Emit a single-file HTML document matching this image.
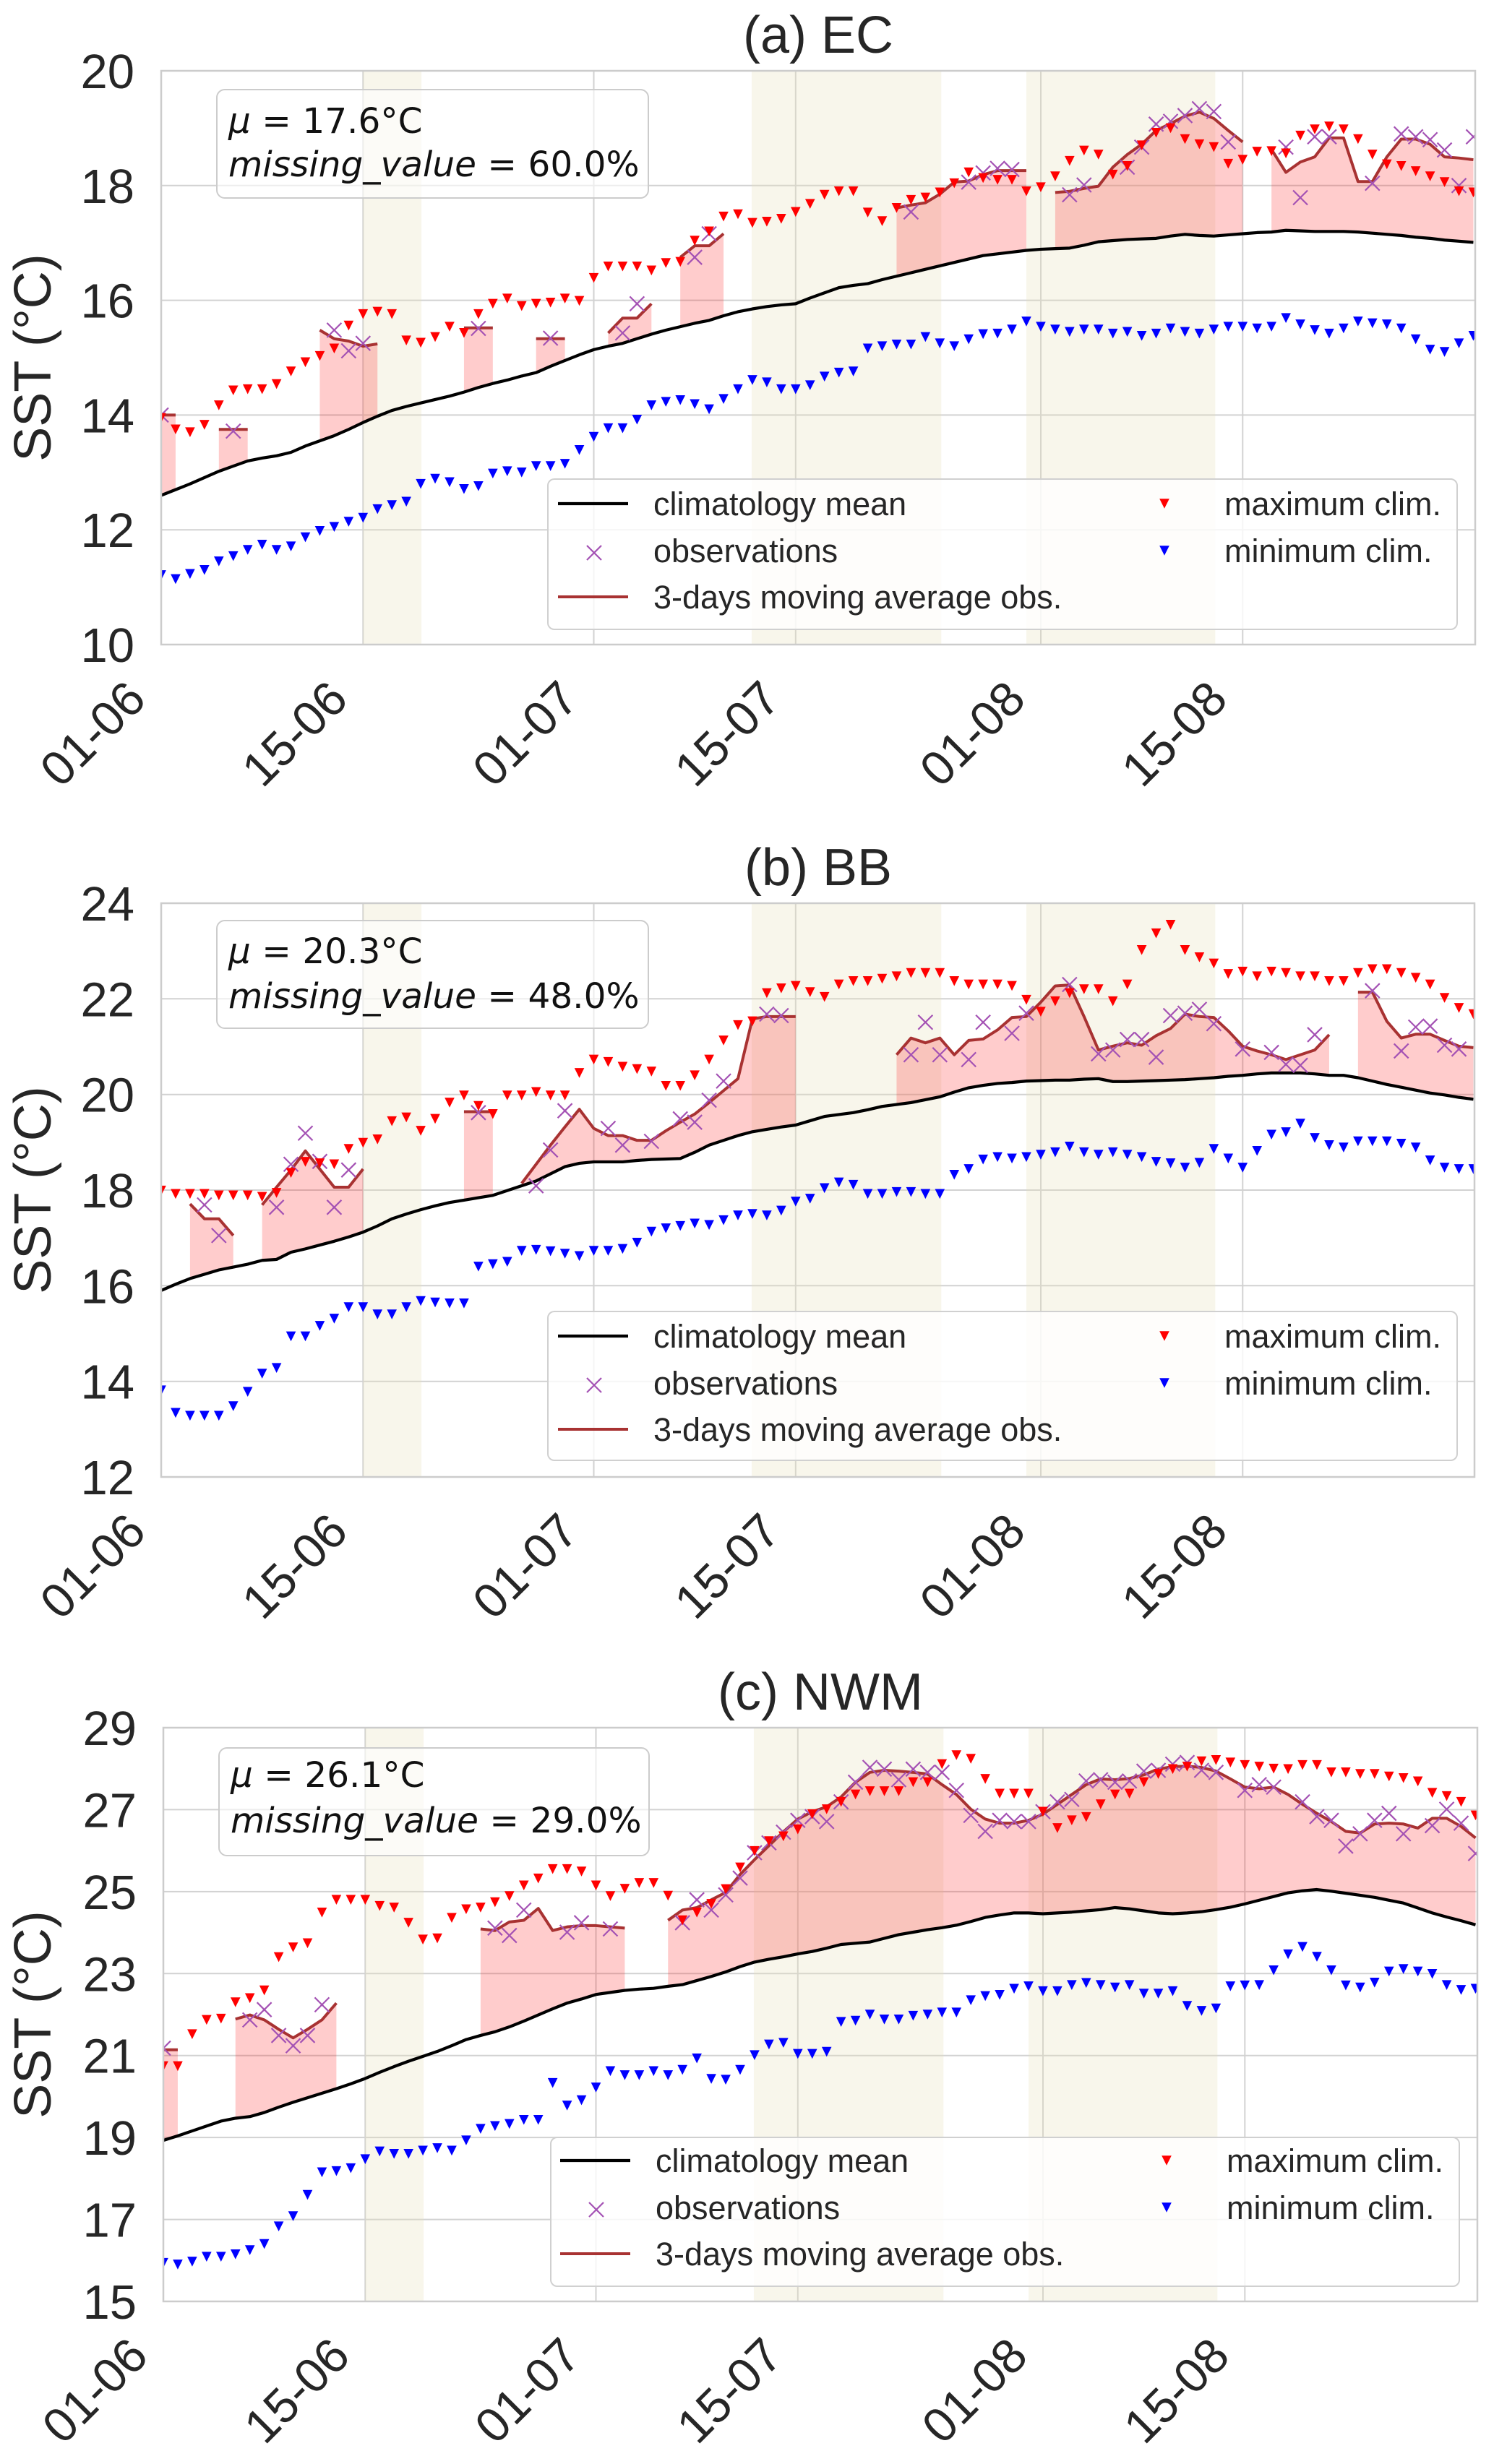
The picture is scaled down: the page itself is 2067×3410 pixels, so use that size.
<!DOCTYPE html>
<html><head><meta charset="utf-8"><style>
html,body{margin:0;padding:0;background:#fff;}
svg{display:block;}
.t{font-family:"Liberation Sans",Arial,sans-serif;fill:#262626;}
.m{font-family:"DejaVu Sans","Liberation Sans",sans-serif;fill:#111;}
</style></head><body>
<svg xmlns="http://www.w3.org/2000/svg" width="2067" height="3410" viewBox="0 0 2067 3410">
<defs>
<clipPath id="ca"><rect x="223" y="98" width="1818" height="794"/></clipPath>
<clipPath id="cb"><rect x="223" y="1250" width="1817" height="794"/></clipPath>
<clipPath id="cc"><rect x="226" y="2391" width="1818" height="794"/></clipPath>
<marker id="ra" markerUnits="userSpaceOnUse" markerWidth="1" markerHeight="1" overflow="visible" orient="0"><path d="M-0.341 0.0856H0.341L0 -0.0856Z" fill="#ff0000"/></marker>
<marker id="ba" markerUnits="userSpaceOnUse" markerWidth="1" markerHeight="1" overflow="visible" orient="0"><path d="M-0.341 0.0856H0.341L0 -0.0856Z" fill="#0000ff"/></marker>
<marker id="rb" markerUnits="userSpaceOnUse" markerWidth="1" markerHeight="1" overflow="visible" orient="0"><path d="M-0.341 0.1028H0.341L0 -0.1028Z" fill="#ff0000"/></marker>
<marker id="bb" markerUnits="userSpaceOnUse" markerWidth="1" markerHeight="1" overflow="visible" orient="0"><path d="M-0.341 0.1028H0.341L0 -0.1028Z" fill="#0000ff"/></marker>
<marker id="rc" markerUnits="userSpaceOnUse" markerWidth="1" markerHeight="1" overflow="visible" orient="0"><path d="M-0.341 0.1199H0.341L0 -0.1199Z" fill="#ff0000"/></marker>
<marker id="bc" markerUnits="userSpaceOnUse" markerWidth="1" markerHeight="1" overflow="visible" orient="0"><path d="M-0.341 0.1199H0.341L0 -0.1199Z" fill="#0000ff"/></marker>
<marker id="xa" markerUnits="userSpaceOnUse" markerWidth="1" markerHeight="1" overflow="visible" orient="0"><path d="M-0.4622 -0.1358L0.5404 0.1161L0.4622 0.1358L-0.5404 -0.1161ZM0.5404 -0.1161L-0.4622 0.1358L-0.5404 0.1161L0.4622 -0.1358Z" fill="#a452b4"/></marker>
<marker id="xb" markerUnits="userSpaceOnUse" markerWidth="1" markerHeight="1" overflow="visible" orient="0"><path d="M-0.4622 -0.1629L0.5404 0.1393L0.4622 0.1629L-0.5404 -0.1393ZM0.5404 -0.1393L-0.4622 0.1629L-0.5404 0.1393L0.4622 -0.1629Z" fill="#a452b4"/></marker>
<marker id="xc" markerUnits="userSpaceOnUse" markerWidth="1" markerHeight="1" overflow="visible" orient="0"><path d="M-0.4622 -0.1901L0.5404 0.1626L0.4622 0.1901L-0.5404 -0.1626ZM0.5404 -0.1626L-0.4622 0.1901L-0.5404 0.1626L0.4622 -0.1901Z" fill="#a452b4"/></marker>
</defs>

<!-- ================= PANEL A ================= -->
<text class="t" x="1132" y="73" font-size="72" text-anchor="middle">(a) EC</text>
<g stroke="#d2d2d2" stroke-width="2">
<line x1="223" x2="2041" y1="256.8" y2="256.8"/><line x1="223" x2="2041" y1="415.6" y2="415.6"/><line x1="223" x2="2041" y1="574.4" y2="574.4"/><line x1="223" x2="2041" y1="733.2" y2="733.2"/>
<line x1="502.3" x2="502.3" y1="98" y2="892"/><line x1="821.5" x2="821.5" y1="98" y2="892"/><line x1="1100.8" x2="1100.8" y1="98" y2="892"/><line x1="1440" x2="1440" y1="98" y2="892"/><line x1="1719.3" x2="1719.3" y1="98" y2="892"/>
</g>
<g clip-path="url(#ca)"><g transform="translate(223 892) scale(19.95 -79.4) translate(0 -10)">
<g fill="rgb(232,225,190)" fill-opacity="0.3"><rect x="14" y="10" width="4.05" height="10"/><rect x="40.95" y="10" width="13.15" height="10"/><rect x="60" y="10" width="13.1" height="10"/></g>
<g fill="#ff0000" fill-opacity="0.2">
<polygon points="0,14.0 1,14.0 1,12.70 0,12.60"/>
<polygon points="4,13.75 5,13.75 6,13.75 6,13.20 5,13.11 4,13.02"/>
<polygon points="11,15.48 12,15.33 13,15.29 14,15.20 15,15.24 15,13.98 14,13.87 13,13.75 12,13.64 11,13.55"/>
<polygon points="21,15.52 22,15.52 23,15.52 23,14.55 22,14.48 21,14.40"/>
<polygon points="26,15.33 27,15.33 28,15.33 28,14.95 27,14.85 26,14.74"/>
<polygon points="31,15.43 32,15.69 33,15.69 34,15.94 34,15.41 33,15.33 32,15.25 31,15.20"/>
<polygon points="36,16.75 37,16.95 38,16.95 39,17.16 39,15.73 38,15.65 37,15.60 36,15.54"/>
<polygon points="51,17.61 52,17.66 53,17.70 54,17.85 55,18.06 56,18.08 57,18.19 58,18.26 59,18.26 60,18.26 60,16.87 59,16.84 58,16.81 57,16.78 56,16.72 55,16.66 54,16.60 53,16.54 52,16.48 51,16.42"/>
<polygon points="62,17.88 63,17.90 64,17.95 65,17.99 66,18.32 67,18.54 68,18.72 69,18.96 70,19.08 71,19.21 72,19.28 73,19.17 74,18.96 75,18.76 75,17.16 74,17.14 73,17.12 72,17.13 71,17.15 70,17.12 69,17.08 68,17.07 67,17.06 66,17.04 65,17.02 64,16.96 63,16.91 62,16.90"/>
<polygon points="77,18.63 78,18.23 79,18.41 80,18.50 81,18.83 82,18.83 83,18.07 84,18.07 85,18.50 86,18.81 87,18.81 88,18.72 89,18.50 90,18.48 91,18.45 91,17.01 90,17.03 89,17.05 88,17.08 87,17.10 86,17.13 85,17.15 84,17.17 83,17.19 82,17.20 81,17.20 80,17.20 79,17.21 78,17.22 77,17.19"/>
</g>
<polyline fill="none" stroke="#000" stroke-width="4.2" vector-effect="non-scaling-stroke" stroke-linejoin="round" points="0,12.60 1,12.70 2,12.80 3,12.91 4,13.02 5,13.11 6,13.20 7,13.25 8,13.29 9,13.35 10,13.46 11,13.55 12,13.64 13,13.75 14,13.87 15,13.98 16,14.08 17,14.15 18,14.21 19,14.27 20,14.33 21,14.40 22,14.48 23,14.55 24,14.61 25,14.68 26,14.74 27,14.85 28,14.95 29,15.05 30,15.14 31,15.20 32,15.25 33,15.33 34,15.41 35,15.48 36,15.54 37,15.60 38,15.65 39,15.73 40,15.80 41,15.85 42,15.89 43,15.92 44,15.94 45,16.04 46,16.13 47,16.22 48,16.26 49,16.29 50,16.36 51,16.42 52,16.48 53,16.54 54,16.60 55,16.66 56,16.72 57,16.78 58,16.81 59,16.84 60,16.87 61,16.89 62,16.90 63,16.91 64,16.96 65,17.02 66,17.04 67,17.06 68,17.07 69,17.08 70,17.12 71,17.15 72,17.13 73,17.12 74,17.14 75,17.16 76,17.18 77,17.19 78,17.22 79,17.21 80,17.20 81,17.20 82,17.20 83,17.19 84,17.17 85,17.15 86,17.13 87,17.10 88,17.08 89,17.05 90,17.03 91,17.01"/>
<g fill="none" stroke="#a83232" stroke-width="4" vector-effect="non-scaling-stroke" stroke-linejoin="round">
<polyline vector-effect="non-scaling-stroke" points="0,14.0 1,14.0"/>
<polyline vector-effect="non-scaling-stroke" points="4,13.75 5,13.75 6,13.75"/>
<polyline vector-effect="non-scaling-stroke" points="11,15.48 12,15.33 13,15.29 14,15.20 15,15.24"/>
<polyline vector-effect="non-scaling-stroke" points="21,15.52 22,15.52 23,15.52"/>
<polyline vector-effect="non-scaling-stroke" points="26,15.33 27,15.33 28,15.33"/>
<polyline vector-effect="non-scaling-stroke" points="31,15.43 32,15.69 33,15.69 34,15.94"/>
<polyline vector-effect="non-scaling-stroke" points="36,16.75 37,16.95 38,16.95 39,17.16"/>
<polyline vector-effect="non-scaling-stroke" points="51,17.61 52,17.66 53,17.70 54,17.85 55,18.06 56,18.08 57,18.19 58,18.26 59,18.26 60,18.26"/>
<polyline vector-effect="non-scaling-stroke" points="62,17.88 63,17.90 64,17.95 65,17.99 66,18.32 67,18.54 68,18.72 69,18.96 70,19.08 71,19.21 72,19.28 73,19.17 74,18.96 75,18.76"/>
<polyline vector-effect="non-scaling-stroke" points="77,18.63 78,18.23 79,18.41 80,18.50 81,18.83 82,18.83 83,18.07 84,18.07 85,18.50 86,18.81 87,18.81 88,18.72 89,18.50 90,18.48 91,18.45"/>
</g>
<polyline fill="none" stroke="none" marker-start="url(#xa)" marker-mid="url(#xa)" marker-end="url(#xa)" points="0,14.0 5,13.72 12,15.48 13,15.12 14,15.25 22,15.51 27,15.34 32,15.43 33,15.94 37,16.75 38,17.16 52,17.54 56,18.06 57,18.22 58,18.30 59,18.28 63,17.84 64,18.01 67,18.32 68,18.67 69,19.07 70,19.12 71,19.22 72,19.34 73,19.29 74,18.76 78,18.67 79,17.79 80,18.85 81,18.85 84,18.04 86,18.90 87,18.85 88,18.80 89,18.62 90,18.00 91,18.85"/>
<polyline fill="none" stroke="none" marker-start="url(#ra)" marker-mid="url(#ra)" marker-end="url(#ra)" points="0,13.95 1,13.75 2,13.70 3,13.83 4,14.17 5,14.43 6,14.45 7,14.45 8,14.54 9,14.76 10,14.92 11,15.03 12,15.16 13,15.56 14,15.76 15,15.80 16,15.76 17,15.30 18,15.26 19,15.36 20,15.54 21,15.43 22,15.76 23,15.94 24,16.03 25,15.90 26,15.94 27,15.96 28,16.03 29,15.99 30,16.39 31,16.59 32,16.59 33,16.59 34,16.52 35,16.65 36,16.67 37,17.04 38,17.20 39,17.46 40,17.50 41,17.35 42,17.37 43,17.42 44,17.54 45,17.68 46,17.84 47,17.90 48,17.90 49,17.53 50,17.38 51,17.61 52,17.75 53,17.79 54,17.88 55,18.04 56,18.23 57,18.13 58,18.10 59,18.10 60,17.90 61,17.97 62,18.16 63,18.43 64,18.61 65,18.54 66,18.19 67,18.34 68,18.70 69,18.92 70,19.00 71,18.81 72,18.72 73,18.67 74,18.38 75,18.45 76,18.59 77,18.60 78,18.56 79,18.87 80,18.98 81,19.03 82,18.98 83,18.81 84,18.54 85,18.37 86,18.34 87,18.25 88,18.16 89,18.06 90,17.90 91,17.88"/>
<polyline fill="none" stroke="none" marker-start="url(#ba)" marker-mid="url(#ba)" marker-end="url(#ba)" points="0,11.21 1,11.14 2,11.23 3,11.30 4,11.45 5,11.54 6,11.65 7,11.74 8,11.65 9,11.71 10,11.87 11,11.98 12,12.05 13,12.14 14,12.21 15,12.36 16,12.43 17,12.49 18,12.80 19,12.89 20,12.83 21,12.71 22,12.76 23,12.98 24,13.02 25,13.00 26,13.11 27,13.11 28,13.15 29,13.39 30,13.62 31,13.77 32,13.77 33,13.92 34,14.17 35,14.23 36,14.26 37,14.19 38,14.10 39,14.28 40,14.45 41,14.61 42,14.57 43,14.45 44,14.45 45,14.52 46,14.67 47,14.74 48,14.76 49,15.16 50,15.20 51,15.23 52,15.23 53,15.36 54,15.25 55,15.20 56,15.32 57,15.41 58,15.42 59,15.49 60,15.63 61,15.54 62,15.49 63,15.45 64,15.49 65,15.49 66,15.42 67,15.45 68,15.38 69,15.42 70,15.51 71,15.45 72,15.42 73,15.49 74,15.54 75,15.54 76,15.51 77,15.54 78,15.69 79,15.58 80,15.48 81,15.42 82,15.51 83,15.63 84,15.60 85,15.58 86,15.51 87,15.32 88,15.14 89,15.10 90,15.25 91,15.38"/>
</g></g>
<rect x="223" y="98" width="1818" height="794" fill="none" stroke="#cccccc" stroke-width="2.5"/>
<rect x="300" y="124" width="597" height="150" rx="11" fill="#fff" fill-opacity="0.6" stroke="#cccccc" stroke-width="2"/>
<text class="m" x="316" y="184" font-size="48.5"><tspan font-style="italic">μ</tspan> = 17.6°C</text>
<text class="m" x="316" y="244" font-size="48.5"><tspan font-style="italic">missing_value</tspan> = 60.0%</text>
<rect x="758" y="663" width="1258" height="208" rx="9" fill="#fff" fill-opacity="0.8" stroke="#d0d0d0" stroke-width="2"/>
<line x1="772" x2="869" y1="697" y2="697" stroke="#000" stroke-width="4.2"/>
<path d="M812,755 L832,775 M832,755 L812,775" stroke="#a452b4" stroke-width="2.2"/>
<line x1="772" x2="869" y1="826" y2="826" stroke="#a83232" stroke-width="4"/>
<polygon points="1604.2,690.2 1617.8,690.2 1611,703.8" fill="#ff0000"/>
<polygon points="1604.2,755.2 1617.8,755.2 1611,768.8" fill="#0000ff"/>
<g class="t" font-size="45">
<text x="904" y="713">climatology mean</text><text x="904" y="778">observations</text><text x="904" y="842">3-days moving average obs.</text>
<text x="1694" y="713">maximum clim.</text><text x="1694" y="778">minimum clim.</text>
</g>
<g class="t" font-size="67" text-anchor="end">
<text x="186" y="122">20</text><text x="186" y="280.8">18</text><text x="186" y="439.6">16</text><text x="186" y="598.4">14</text><text x="186" y="757.2">12</text><text x="186" y="916">10</text>
<text x="205" y="971" transform="rotate(-45 205 971)">01-06</text>
<text x="484.3" y="971" transform="rotate(-45 484.3 971)">15-06</text>
<text x="803.5" y="971" transform="rotate(-45 803.5 971)">01-07</text>
<text x="1082.8" y="971" transform="rotate(-45 1082.8 971)">15-07</text>
<text x="1422" y="971" transform="rotate(-45 1422 971)">01-08</text>
<text x="1701.3" y="971" transform="rotate(-45 1701.3 971)">15-08</text>
</g>
<text class="t" font-size="72" text-anchor="middle" transform="translate(70 495) rotate(-90)">SST (°C)</text>

<!-- ================= PANEL B ================= -->
<text class="t" x="1132" y="1225" font-size="72" text-anchor="middle">(b) BB</text>
<g stroke="#d2d2d2" stroke-width="2">
<line x1="223" x2="2040" y1="1382.3" y2="1382.3"/><line x1="223" x2="2040" y1="1514.7" y2="1514.7"/><line x1="223" x2="2040" y1="1647" y2="1647"/><line x1="223" x2="2040" y1="1779.3" y2="1779.3"/><line x1="223" x2="2040" y1="1911.7" y2="1911.7"/>
<line x1="502.3" x2="502.3" y1="1250" y2="2044"/><line x1="821.5" x2="821.5" y1="1250" y2="2044"/><line x1="1100.8" x2="1100.8" y1="1250" y2="2044"/><line x1="1440" x2="1440" y1="1250" y2="2044"/><line x1="1719.3" x2="1719.3" y1="1250" y2="2044"/>
</g>
<g clip-path="url(#cb)"><g transform="translate(223 2044) scale(19.95 -66.1667) translate(0 -12)">
<g fill="rgb(232,225,190)" fill-opacity="0.3"><rect x="14" y="12" width="4.05" height="12"/><rect x="40.95" y="12" width="13.15" height="12"/><rect x="60" y="12" width="13.1" height="12"/></g>
<g fill="#ff0000" fill-opacity="0.2">
<polygon points="2,17.71 3,17.40 4,17.40 5,17.05 5,16.39 4,16.33 3,16.24 2,16.15"/>
<polygon points="7,17.69 8,18.06 9,18.42 10,18.82 11,18.44 12,18.06 13,18.06 14,18.44 14,17.12 13,17.02 12,16.93 11,16.85 10,16.77 9,16.70 8,16.55 7,16.53"/>
<polygon points="21,19.64 22,19.64 23,19.64 23,17.89 22,17.84 21,17.79"/>
<polygon points="25,18.14 26,18.54 27,18.94 28,19.32 29,19.69 30,19.29 31,19.14 32,19.14 33,19.04 34,19.04 35,19.24 36,19.42 37,19.59 38,19.83 39,20.08 40,20.33 41,21.58 42,21.63 43,21.63 44,21.63 44,19.36 43,19.32 42,19.27 41,19.22 40,19.14 39,19.04 38,18.94 37,18.79 36,18.66 35,18.65 34,18.64 33,18.62 32,18.59 31,18.59 30,18.59 29,18.56 28,18.49 27,18.34 26,18.19 25,18.09"/>
<polygon points="51,20.83 52,21.18 53,21.08 54,21.18 55,20.83 56,21.13 57,21.16 58,21.35 59,21.61 60,21.63 61,21.93 62,22.27 63,22.29 64,21.63 65,20.93 66,21.01 67,21.08 68,21.03 69,21.23 70,21.38 71,21.68 72,21.63 73,21.61 74,21.33 75,21.01 76,20.91 77,20.83 78,20.73 79,20.83 80,20.93 81,21.25 81,20.40 80,20.43 79,20.45 78,20.45 77,20.45 76,20.43 75,20.40 74,20.38 73,20.35 72,20.33 71,20.31 70,20.30 69,20.29 68,20.28 67,20.27 66,20.27 65,20.33 64,20.32 63,20.30 62,20.30 61,20.29 60,20.28 59,20.25 58,20.23 57,20.19 56,20.14 55,20.05 54,19.95 53,19.89 52,19.83 51,19.79"/>
<polygon points="83,22.14 84,22.14 85,21.53 86,21.18 87,21.26 88,21.26 89,21.13 90,21.01 91,20.98 91,19.90 90,19.94 89,19.99 88,20.03 87,20.09 86,20.15 85,20.21 84,20.28 83,20.35"/>
</g>
<polyline fill="none" stroke="#000" stroke-width="4.2" vector-effect="non-scaling-stroke" stroke-linejoin="round" points="0,15.90 1,16.03 2,16.15 3,16.24 4,16.33 5,16.39 6,16.45 7,16.53 8,16.55 9,16.70 10,16.77 11,16.85 12,16.93 13,17.02 14,17.12 15,17.25 16,17.40 17,17.50 18,17.59 19,17.67 20,17.74 21,17.79 22,17.84 23,17.89 24,17.99 25,18.09 26,18.19 27,18.34 28,18.49 29,18.56 30,18.59 31,18.59 32,18.59 33,18.62 34,18.64 35,18.65 36,18.66 37,18.79 38,18.94 39,19.04 40,19.14 41,19.22 42,19.27 43,19.32 44,19.36 45,19.45 46,19.54 47,19.58 48,19.62 49,19.68 50,19.75 51,19.79 52,19.83 53,19.89 54,19.95 55,20.05 56,20.14 57,20.19 58,20.23 59,20.25 60,20.28 61,20.29 62,20.30 63,20.30 64,20.32 65,20.33 66,20.27 67,20.27 68,20.28 69,20.29 70,20.30 71,20.31 72,20.33 73,20.35 74,20.38 75,20.40 76,20.43 77,20.45 78,20.45 79,20.45 80,20.43 81,20.40 82,20.40 83,20.35 84,20.28 85,20.21 86,20.15 87,20.09 88,20.03 89,19.99 90,19.94 91,19.90"/>
<g fill="none" stroke="#a83232" stroke-width="4" stroke-linejoin="round">
<polyline vector-effect="non-scaling-stroke" points="2,17.71 3,17.40 4,17.40 5,17.05"/>
<polyline vector-effect="non-scaling-stroke" points="7,17.69 8,18.06 9,18.42 10,18.82 11,18.44 12,18.06 13,18.06 14,18.44"/>
<polyline vector-effect="non-scaling-stroke" points="21,19.64 22,19.64 23,19.64"/>
<polyline vector-effect="non-scaling-stroke" points="25,18.14 26,18.54 27,18.94 28,19.32 29,19.69 30,19.29 31,19.14 32,19.14 33,19.04 34,19.04 35,19.24 36,19.42 37,19.59 38,19.83 39,20.08 40,20.33 41,21.58 42,21.63 43,21.63 44,21.63"/>
<polyline vector-effect="non-scaling-stroke" points="51,20.83 52,21.18 53,21.08 54,21.18 55,20.83 56,21.13 57,21.16 58,21.35 59,21.61 60,21.63 61,21.93 62,22.27 63,22.29 64,21.63 65,20.93 66,21.01 67,21.08 68,21.03 69,21.23 70,21.38 71,21.68 72,21.63 73,21.61 74,21.33 75,21.01 76,20.91 77,20.83 78,20.73 79,20.83 80,20.93 81,21.25"/>
<polyline vector-effect="non-scaling-stroke" points="83,22.14 84,22.14 85,21.53 86,21.18 87,21.26 88,21.26 89,21.13 90,21.01 91,20.98"/>
</g>
<polyline fill="none" stroke="none" marker-start="url(#xb)" marker-mid="url(#xb)" marker-end="url(#xb)" points="3,17.69 4,17.05 8,17.64 9,18.54 10,19.19 11,18.60 12,17.64 13,18.42 22,19.62 26,18.09 27,18.84 28,19.66 31,19.29 32,18.94 34,19.02 36,19.49 37,19.42 38,19.88 39,20.28 42,21.68 43,21.65 52,20.83 53,21.51 54,20.83 56,20.73 57,21.51 59,21.28 60,21.70 63,22.30 65,20.85 66,20.93 67,21.15 68,21.15 69,20.78 70,21.65 71,21.70 72,21.78 73,21.48 75,20.95 77,20.88 78,20.63 79,20.61 80,21.25 84,22.17 86,20.91 87,21.41 88,21.43 89,21.03 90,20.95"/>
<polyline fill="none" stroke="none" marker-start="url(#rb)" marker-mid="url(#rb)" marker-end="url(#rb)" points="0,17.99 1,17.92 2,17.92 3,17.92 4,17.89 5,17.89 6,17.89 7,17.86 8,17.94 9,18.36 10,18.59 11,18.56 12,18.54 13,18.86 14,18.99 15,19.06 16,19.44 17,19.52 18,19.24 19,19.49 20,19.83 21,19.98 22,19.76 23,19.59 24,19.98 25,19.98 26,20.05 27,19.98 28,19.98 29,20.45 30,20.73 31,20.68 32,20.58 33,20.53 34,20.48 35,20.18 36,20.18 37,20.40 38,20.73 39,21.13 40,21.45 41,21.53 42,22.12 43,22.22 44,22.27 45,22.14 46,22.04 47,22.30 48,22.37 49,22.37 50,22.42 51,22.47 52,22.54 53,22.54 54,22.54 55,22.37 56,22.30 57,22.30 58,22.30 59,22.27 60,21.98 61,21.73 62,21.95 63,22.12 64,22.20 65,22.20 66,21.95 67,22.30 68,23.02 69,23.37 70,23.55 71,23.02 72,22.87 73,22.74 74,22.52 75,22.57 76,22.47 77,22.57 78,22.54 79,22.47 80,22.47 81,22.37 82,22.37 83,22.54 84,22.62 85,22.62 86,22.54 87,22.44 88,22.30 89,22.02 90,21.81 91,21.68"/>
<polyline fill="none" stroke="none" marker-start="url(#bb)" marker-mid="url(#bb)" marker-end="url(#bb)" points="0,13.81 1,13.34 2,13.28 3,13.28 4,13.28 5,13.48 6,13.78 7,14.16 8,14.28 9,14.94 10,14.94 11,15.16 12,15.31 13,15.55 14,15.55 15,15.40 16,15.40 17,15.55 18,15.68 19,15.65 20,15.63 21,15.63 22,16.40 23,16.45 24,16.50 25,16.73 26,16.75 27,16.72 28,16.67 29,16.62 30,16.73 31,16.73 32,16.77 33,16.90 34,17.13 35,17.20 36,17.25 37,17.30 38,17.27 39,17.37 40,17.47 41,17.50 42,17.47 43,17.57 44,17.76 45,17.82 46,18.04 47,18.16 48,18.11 49,17.92 50,17.92 51,17.96 52,17.96 53,17.92 54,17.92 55,18.32 56,18.44 57,18.64 58,18.69 59,18.66 60,18.69 61,18.74 62,18.79 63,18.91 64,18.79 65,18.74 66,18.79 67,18.74 68,18.69 69,18.59 70,18.56 71,18.47 72,18.57 73,18.86 74,18.66 75,18.47 76,18.82 77,19.16 78,19.21 79,19.39 80,19.09 81,18.94 82,18.89 83,19.02 84,19.02 85,19.02 86,18.97 87,18.89 88,18.62 89,18.47 90,18.44 91,18.44"/>
</g></g>
<rect x="223" y="1250" width="1817" height="794" fill="none" stroke="#cccccc" stroke-width="2.5"/>
<rect x="300" y="1274" width="597" height="149" rx="11" fill="#fff" fill-opacity="0.6" stroke="#cccccc" stroke-width="2"/>
<text class="m" x="316" y="1333" font-size="48.5"><tspan font-style="italic">μ</tspan> = 20.3°C</text>
<text class="m" x="316" y="1395" font-size="48.5"><tspan font-style="italic">missing_value</tspan> = 48.0%</text>
<rect x="758" y="1815" width="1258" height="206" rx="9" fill="#fff" fill-opacity="0.8" stroke="#d0d0d0" stroke-width="2"/>
<line x1="772" x2="869" y1="1849" y2="1849" stroke="#000" stroke-width="4.2"/>
<path d="M812,1907 L832,1927 M832,1907 L812,1927" stroke="#a452b4" stroke-width="2.2"/>
<line x1="772" x2="869" y1="1978" y2="1978" stroke="#a83232" stroke-width="4"/>
<polygon points="1604.2,1842.2 1617.8,1842.2 1611,1855.8" fill="#ff0000"/>
<polygon points="1604.2,1907.2 1617.8,1907.2 1611,1920.8" fill="#0000ff"/>
<g class="t" font-size="45">
<text x="904" y="1865">climatology mean</text><text x="904" y="1930">observations</text><text x="904" y="1994">3-days moving average obs.</text>
<text x="1694" y="1865">maximum clim.</text><text x="1694" y="1930">minimum clim.</text>
</g>
<g class="t" font-size="67" text-anchor="end">
<text x="186" y="1274">24</text><text x="186" y="1406.3">22</text><text x="186" y="1538.7">20</text><text x="186" y="1671">18</text><text x="186" y="1803.3">16</text><text x="186" y="1935.7">14</text><text x="186" y="2068">12</text>
<text x="205" y="2123" transform="rotate(-45 205 2123)">01-06</text>
<text x="484.3" y="2123" transform="rotate(-45 484.3 2123)">15-06</text>
<text x="803.5" y="2123" transform="rotate(-45 803.5 2123)">01-07</text>
<text x="1082.8" y="2123" transform="rotate(-45 1082.8 2123)">15-07</text>
<text x="1422" y="2123" transform="rotate(-45 1422 2123)">01-08</text>
<text x="1701.3" y="2123" transform="rotate(-45 1701.3 2123)">15-08</text>
</g>
<text class="t" font-size="72" text-anchor="middle" transform="translate(70 1647) rotate(-90)">SST (°C)</text>

<!-- ================= PANEL C ================= -->
<text class="t" x="1135" y="2366" font-size="72" text-anchor="middle">(c) NWM</text>
<g stroke="#d2d2d2" stroke-width="2">
<line x1="226" x2="2044" y1="2504.4" y2="2504.4"/><line x1="226" x2="2044" y1="2617.9" y2="2617.9"/><line x1="226" x2="2044" y1="2731.3" y2="2731.3"/><line x1="226" x2="2044" y1="2844.7" y2="2844.7"/><line x1="226" x2="2044" y1="2958.1" y2="2958.1"/><line x1="226" x2="2044" y1="3071.6" y2="3071.6"/>
<line x1="505.3" x2="505.3" y1="2391" y2="3185"/><line x1="824.5" x2="824.5" y1="2391" y2="3185"/><line x1="1103.8" x2="1103.8" y1="2391" y2="3185"/><line x1="1443" x2="1443" y1="2391" y2="3185"/><line x1="1722.3" x2="1722.3" y1="2391" y2="3185"/>
</g>
<g clip-path="url(#cc)"><g transform="translate(226 3185) scale(19.95 -56.714) translate(0 -15)">
<g fill="rgb(232,225,190)" fill-opacity="0.3"><rect x="14" y="15" width="4.05" height="14"/><rect x="40.95" y="15" width="13.15" height="14"/><rect x="60" y="15" width="13.1" height="14"/></g>
<g fill="#ff0000" fill-opacity="0.2">
<polygon points="0,21.14 1,21.14 1,19.04 0,18.93"/>
<polygon points="5,21.89 6,21.99 7,21.87 8,21.64 9,21.43 10,21.64 11,21.87 12,22.28 12,20.19 11,20.08 10,19.97 9,19.86 8,19.74 7,19.61 6,19.51 5,19.47"/>
<polygon points="22,24.09 23,24.05 24,24.26 25,24.30 26,24.59 27,24.05 28,24.14 29,24.17 30,24.17 31,24.14 32,24.11 32,22.59 31,22.54 30,22.49 29,22.38 28,22.28 27,22.14 26,21.99 25,21.84 24,21.70 23,21.58 22,21.49"/>
<polygon points="35,24.30 36,24.55 37,24.61 38,24.80 39,24.98 40,25.42 41,25.78 42,26.12 43,26.46 44,26.77 45,26.95 46,27.07 47,27.31 48,27.67 49,27.91 50,27.96 51,27.94 52,27.91 53,27.87 54,27.61 55,27.37 56,27.01 57,26.77 58,26.67 59,26.67 60,26.74 61,26.89 62,27.13 63,27.37 64,27.61 65,27.75 66,27.73 67,27.76 68,27.85 69,27.99 70,28.05 71,28.06 72,28.03 73,27.94 74,27.75 75,27.55 76,27.51 77,27.55 78,27.37 79,27.13 80,26.91 81,26.71 82,26.47 83,26.43 84,26.65 85,26.67 86,26.65 87,26.55 88,26.79 89,26.79 90,26.59 91,26.31 91,24.19 90,24.29 89,24.38 88,24.48 87,24.60 86,24.72 85,24.79 84,24.86 83,24.91 82,24.96 81,25.01 80,25.05 79,25.02 78,24.97 77,24.88 76,24.79 75,24.70 74,24.62 73,24.56 72,24.51 71,24.48 70,24.46 69,24.48 68,24.53 67,24.58 66,24.61 65,24.56 64,24.53 63,24.50 62,24.48 61,24.46 60,24.48 59,24.48 58,24.43 57,24.37 56,24.27 55,24.18 54,24.12 53,24.07 52,24.01 51,23.95 50,23.86 49,23.77 48,23.74 47,23.71 46,23.62 45,23.54 44,23.48 43,23.41 42,23.35 41,23.28 40,23.17 39,23.04 38,22.93 37,22.83 36,22.73 35,22.69"/>
</g>
<polyline fill="none" stroke="#000" stroke-width="4.2" vector-effect="non-scaling-stroke" stroke-linejoin="round" points="0,18.93 1,19.04 2,19.16 3,19.28 4,19.40 5,19.47 6,19.51 7,19.61 8,19.74 9,19.86 10,19.97 11,20.08 12,20.19 13,20.31 14,20.44 15,20.59 16,20.73 17,20.86 18,20.98 19,21.10 20,21.24 21,21.39 22,21.49 23,21.58 24,21.70 25,21.84 26,21.99 27,22.14 28,22.28 29,22.38 30,22.49 31,22.54 32,22.59 33,22.62 34,22.64 35,22.69 36,22.73 37,22.83 38,22.93 39,23.04 40,23.17 41,23.28 42,23.35 43,23.41 44,23.48 45,23.54 46,23.62 47,23.71 48,23.74 49,23.77 50,23.86 51,23.95 52,24.01 53,24.07 54,24.12 55,24.18 56,24.27 57,24.37 58,24.43 59,24.48 60,24.48 61,24.46 62,24.48 63,24.50 64,24.53 65,24.56 66,24.61 67,24.58 68,24.53 69,24.48 70,24.46 71,24.48 72,24.51 73,24.56 74,24.62 75,24.70 76,24.79 77,24.88 78,24.97 79,25.02 80,25.05 81,25.01 82,24.96 83,24.91 84,24.86 85,24.79 86,24.72 87,24.60 88,24.48 89,24.38 90,24.29 91,24.19"/>
<g fill="none" stroke="#a83232" stroke-width="4" stroke-linejoin="round">
<polyline vector-effect="non-scaling-stroke" points="0,21.14 1,21.14"/>
<polyline vector-effect="non-scaling-stroke" points="5,21.89 6,21.99 7,21.87 8,21.64 9,21.43 10,21.64 11,21.87 12,22.28"/>
<polyline vector-effect="non-scaling-stroke" points="22,24.09 23,24.05 24,24.26 25,24.30 26,24.59 27,24.05 28,24.14 29,24.17 30,24.17 31,24.14 32,24.11"/>
<polyline vector-effect="non-scaling-stroke" points="35,24.30 36,24.55 37,24.61 38,24.80 39,24.98 40,25.42 41,25.78 42,26.12 43,26.46 44,26.77 45,26.95 46,27.07 47,27.31 48,27.67 49,27.91 50,27.96 51,27.94 52,27.91 53,27.87 54,27.61 55,27.37 56,27.01 57,26.77 58,26.67 59,26.67 60,26.74 61,26.89 62,27.13 63,27.37 64,27.61 65,27.75 66,27.73 67,27.76 68,27.85 69,27.99 70,28.05 71,28.06 72,28.03 73,27.94 74,27.75 75,27.55 76,27.51 77,27.55 78,27.37 79,27.13 80,26.91 81,26.71 82,26.47 83,26.43 84,26.65 85,26.67 86,26.65 87,26.55 88,26.79 89,26.79 90,26.59 91,26.31"/>
</g>
<polyline fill="none" stroke="none" marker-start="url(#xc)" marker-mid="url(#xc)" marker-end="url(#xc)" points="0,21.18 6,21.87 7,22.12 8,21.49 9,21.24 10,21.49 11,22.24 23,24.11 24,23.93 25,24.55 28,24.01 29,24.24 31,24.09 36,24.24 37,24.80 38,24.55 39,24.92 40,25.33 41,25.95 42,26.19 43,26.45 44,26.74 45,26.83 46,26.71 47,27.19 48,27.67 49,28.03 50,27.99 51,27.73 52,27.99 53,27.91 54,27.91 55,27.47 56,26.86 57,26.47 58,26.74 59,26.71 60,26.71 61,26.95 62,27.19 63,27.25 64,27.70 65,27.73 66,27.67 67,27.70 68,27.94 69,27.96 70,28.11 71,28.15 72,27.96 73,27.91 75,27.47 76,27.61 77,27.55 79,27.19 80,26.83 81,26.74 82,26.11 83,26.41 84,26.74 85,26.91 86,26.41 88,26.61 89,27.01 90,26.67 91,25.93"/>
<polyline fill="none" stroke="none" marker-start="url(#rc)" marker-mid="url(#rc)" marker-end="url(#rc)" points="0,20.74 1,20.74 2,21.52 3,21.87 4,21.90 5,22.30 6,22.40 7,22.59 8,23.40 9,23.64 10,23.74 11,24.49 12,24.80 13,24.80 14,24.80 15,24.65 16,24.61 17,24.24 18,23.83 19,23.86 20,24.36 21,24.57 22,24.61 23,24.74 24,24.89 25,25.15 26,25.32 27,25.55 28,25.55 29,25.49 30,25.15 31,24.89 32,25.07 33,25.21 34,25.21 35,24.90 36,24.30 37,24.49 38,24.70 39,25.06 40,25.59 41,25.99 42,26.23 43,26.35 44,26.52 45,26.89 46,27.01 47,27.19 48,27.37 49,27.45 50,27.45 51,27.45 52,27.67 53,27.67 54,28.11 55,28.33 56,28.24 57,27.75 58,27.39 59,27.39 60,27.39 61,26.95 62,26.55 63,26.74 64,26.82 65,27.13 66,27.37 67,27.39 68,27.67 69,27.87 70,27.99 71,28.05 72,28.18 73,28.21 74,28.15 75,28.09 76,28.05 77,28.00 78,27.99 79,28.09 80,28.09 81,27.91 82,27.91 83,27.87 84,27.87 85,27.81 86,27.77 87,27.69 88,27.41 89,27.33 90,27.19 91,26.86"/>
<polyline fill="none" stroke="none" marker-start="url(#bc)" marker-mid="url(#bc)" marker-end="url(#bc)" points="0,15.94 1,15.90 2,15.97 3,16.09 4,16.09 5,16.15 6,16.25 7,16.40 8,16.83 9,17.08 10,17.60 11,18.15 12,18.18 13,18.25 14,18.47 15,18.66 16,18.60 17,18.60 18,18.68 19,18.74 20,18.68 21,18.93 22,19.21 23,19.28 24,19.33 25,19.43 26,19.43 27,20.33 28,19.78 29,19.91 30,20.22 31,20.62 32,20.52 33,20.52 34,20.62 35,20.52 36,20.65 37,20.93 38,20.43 39,20.41 40,20.65 41,21.01 42,21.27 43,21.31 44,21.04 45,21.04 46,21.09 47,21.82 48,21.85 49,22.00 50,21.88 51,21.88 52,21.97 53,22.00 54,22.05 55,22.05 56,22.35 57,22.45 58,22.48 59,22.63 60,22.69 61,22.57 62,22.57 63,22.72 64,22.77 65,22.72 66,22.66 67,22.72 68,22.51 69,22.51 70,22.57 71,22.21 72,22.09 73,22.15 74,22.69 75,22.71 76,22.72 77,23.08 78,23.47 79,23.65 80,23.41 81,23.08 82,22.71 83,22.66 84,22.78 85,23.05 86,23.11 87,23.05 88,22.99 89,22.72 90,22.60 91,22.63"/>
</g></g>
<rect x="226" y="2391" width="1818" height="794" fill="none" stroke="#cccccc" stroke-width="2.5"/>
<rect x="303" y="2419" width="595" height="149" rx="11" fill="#fff" fill-opacity="0.6" stroke="#cccccc" stroke-width="2"/>
<text class="m" x="319" y="2473" font-size="48.5"><tspan font-style="italic">μ</tspan> = 26.1°C</text>
<text class="m" x="319" y="2536" font-size="48.5"><tspan font-style="italic">missing_value</tspan> = 29.0%</text>
<rect x="762" y="2958" width="1257" height="206" rx="9" fill="#fff" fill-opacity="0.8" stroke="#d0d0d0" stroke-width="2"/>
<line x1="775" x2="872" y1="2990" y2="2990" stroke="#000" stroke-width="4.2"/>
<path d="M815,3048 L835,3068 M835,3048 L815,3068" stroke="#a452b4" stroke-width="2.2"/>
<line x1="775" x2="872" y1="3119" y2="3119" stroke="#a83232" stroke-width="4"/>
<polygon points="1607.2,2983.2 1620.8,2983.2 1614,2996.8" fill="#ff0000"/>
<polygon points="1607.2,3048.2 1620.8,3048.2 1614,3061.8" fill="#0000ff"/>
<g class="t" font-size="45">
<text x="907" y="3006">climatology mean</text><text x="907" y="3071">observations</text><text x="907" y="3135">3-days moving average obs.</text>
<text x="1697" y="3006">maximum clim.</text><text x="1697" y="3071">minimum clim.</text>
</g>
<g class="t" font-size="67" text-anchor="end">
<text x="189" y="2415">29</text><text x="189" y="2528.4">27</text><text x="189" y="2641.9">25</text><text x="189" y="2755.3">23</text><text x="189" y="2868.7">21</text><text x="189" y="2982.1">19</text><text x="189" y="3095.6">17</text><text x="189" y="3209">15</text>
<text x="208" y="3264" transform="rotate(-45 208 3264)">01-06</text>
<text x="487.3" y="3264" transform="rotate(-45 487.3 3264)">15-06</text>
<text x="806.5" y="3264" transform="rotate(-45 806.5 3264)">01-07</text>
<text x="1085.8" y="3264" transform="rotate(-45 1085.8 3264)">15-07</text>
<text x="1425" y="3264" transform="rotate(-45 1425 3264)">01-08</text>
<text x="1704.3" y="3264" transform="rotate(-45 1704.3 3264)">15-08</text>
</g>
<text class="t" font-size="72" text-anchor="middle" transform="translate(70 2788) rotate(-90)">SST (°C)</text>
</svg>
</body></html>
